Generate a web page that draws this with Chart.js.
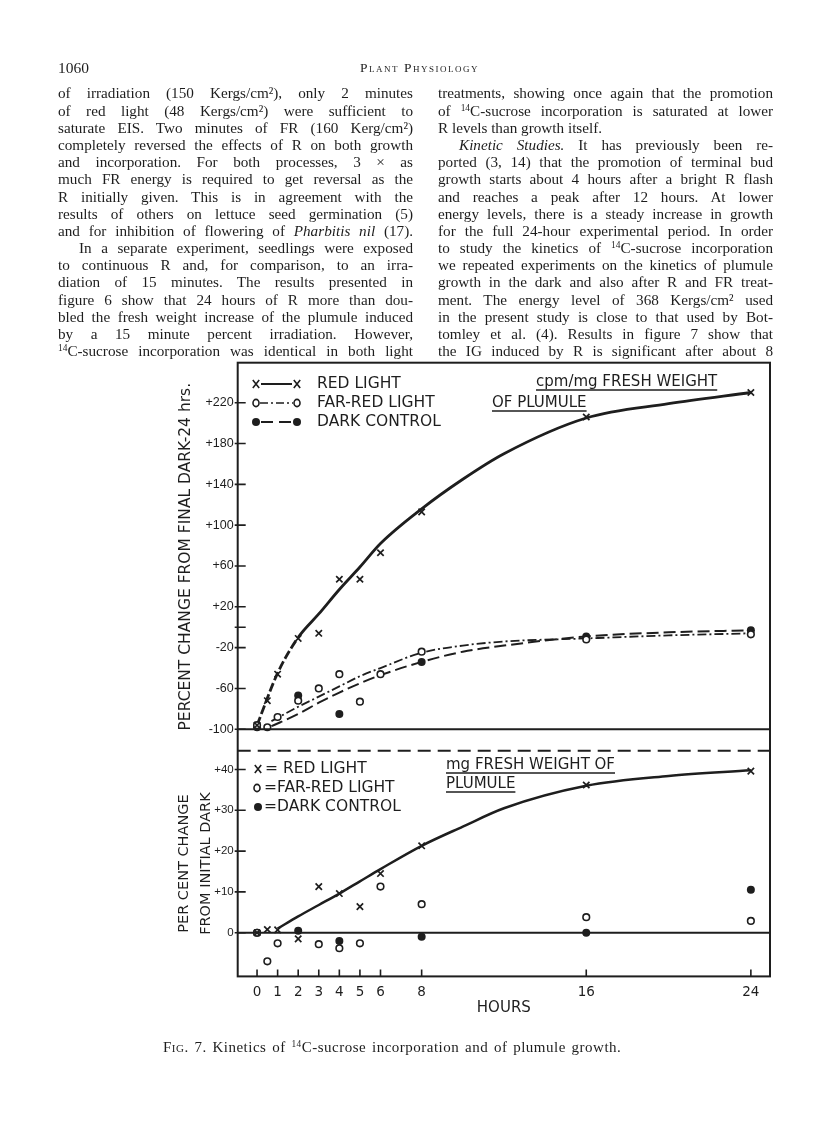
<!DOCTYPE html>
<html>
<head>
<meta charset="utf-8">
<title>Fig. 7 - Kinetics of 14C-sucrose incorporation and of plumule growth</title>
<script src="https://cdn.jsdelivr.net/npm/chart.js@4.4.1/dist/chart.umd.min.js"></script>
<style>
  html, body { margin: 0; padding: 0; background: #fff; }
  #page { position: relative; width: 816px; height: 1127px; overflow: hidden; color: #1d1d1d; }
  #fig { position: absolute; left: 0; top: 0; }
  .serif { font-family: 'Liberation Serif', 'Times New Roman', serif; }
  #folio { position: absolute; left: 58px; top: 60px; font-size: 15.5px; line-height: 16px; }
  #journal { position: absolute; left: 360px; top: 61px; font-size: 13.5px; line-height: 14px; font-variant: small-caps; letter-spacing: 1.5px; }
  .col { position: absolute; top: 84.4px; font-size: 15.2px; line-height: 17.2px; }
  .col div { text-align: justify; text-align-last: justify; height: 17.2px; white-space: nowrap; }
  .col div.end { text-align-last: left; }
  .col div.ind { text-indent: 21px; }
  sup { font-size: 0.62em; line-height: 0; vertical-align: 0.5em; }
  #caption { position: absolute; left: 163px; top: 1039px; font-size: 15px; line-height: 16px; letter-spacing: 0.5px; word-spacing: 1.5px; white-space: nowrap; }
</style>
</head>
<body>
<div id="page">
  <canvas id="fig" width="816" height="1127"></canvas>

  <div id="folio" class="serif">1060</div>
  <div id="journal" class="serif">Plant Physiology</div>

  <div class="col serif" style="left:58px; width:355px">
    <div>of irradiation (150 Kergs/cm²), only 2 minutes</div>
    <div>of red light (48 Kergs/cm²) were sufficient to</div>
    <div>saturate EIS. Two minutes of FR (160 Kerg/cm²)</div>
    <div>completely reversed the effects of R on both growth</div>
    <div>and incorporation. For both processes, 3 × as</div>
    <div>much FR energy is required to get reversal as the</div>
    <div>R initially given. This is in agreement with the</div>
    <div>results of others on lettuce seed germination (5)</div>
    <div>and for inhibition of flowering of <i>Pharbitis nil</i> (17).</div>
    <div class="ind">In a separate experiment, seedlings were exposed</div>
    <div>to continuous R and, for comparison, to an irra-</div>
    <div>diation of 15 minutes. The results presented in</div>
    <div>figure 6 show that 24 hours of R more than dou-</div>
    <div>bled the fresh weight increase of the plumule induced</div>
    <div>by a 15 minute percent irradiation. However,</div>
    <div><sup>14</sup>C-sucrose incorporation was identical in both light</div>
  </div>

  <div class="col serif" style="left:438px; width:335px">
    <div>treatments, showing once again that the promotion</div>
    <div>of <sup>14</sup>C-sucrose incorporation is saturated at lower</div>
    <div class="end">R levels than growth itself.</div>
    <div class="ind"><i>Kinetic Studies.</i> It has previously been re-</div>
    <div>ported (3, 14) that the promotion of terminal bud</div>
    <div>growth starts about 4 hours after a bright R flash</div>
    <div>and reaches a peak after 12 hours. At lower</div>
    <div>energy levels, there is a steady increase in growth</div>
    <div>for the full 24-hour experimental period. In order</div>
    <div>to study the kinetics of <sup>14</sup>C-sucrose incorporation</div>
    <div>we repeated experiments on the kinetics of plumule</div>
    <div>growth in the dark and also after R and FR treat-</div>
    <div>ment. The energy level of 368 Kergs/cm² used</div>
    <div>in the present study is close to that used by Bot-</div>
    <div>tomley et al. (4). Results in figure 7 show that</div>
    <div>the IG induced by R is significant after about 8</div>
  </div>

  <div id="caption" class="serif"><span style="font-variant:small-caps">Fig. 7.</span> Kinetics of <sup>14</sup>C-sucrose incorporation and of plumule growth.</div>
</div>

<script>
// ---- data (hours after treatment) ----

// upper panel: cpm/mg fresh weight of plumule, percent change from final dark (24 hrs)
const topRedHours  = [0, 0.5, 1, 2, 3, 4, 5, 6, 8, 16, 24];
const topRedPts    = [-96, -72, -46, -11, -6, 47, 47, 73, 113, 206, 230];
const topFarHours  = [0, 0.5, 1, 2, 3, 4, 5, 6, 8, 16, 24];
const topFarPts    = [-96, -98, -88, -72, -60, -46, -73, -46, -24, -12, -7];
const topDarkHours = [0, 2, 4, 8, 16, 24];
const topDarkPts   = [-98, -67, -85, -34, -9, -3];

// drawn curves of the upper panel
const topRedCurveHours = [0, 1, 2, 3, 4, 5, 6, 8, 10, 12, 16, 20, 24];
const topRedCurve      = [-96, -45, -10, 13, 37, 59, 82, 116, 145, 170, 205, 219, 230];
const topFarCurveHours = [0.7, 2, 3, 4, 5, 6, 8, 10, 12, 16, 20, 24];
const topFarCurve      = [-92, -78, -68, -58, -48, -40, -25, -18, -14, -11, -8, -6];
const topDarkCurveHours = [0.7, 2, 3, 4, 5, 6, 8, 10, 12, 16, 20, 24];
const topDarkCurve      = [-97, -85, -74, -64, -55, -47, -34, -24, -18, -9, -5, -3];

// lower panel: mg fresh weight of plumule, per cent change from initial dark
const botRedHours  = [0, 0.5, 1, 2, 3, 4, 5, 6, 8, 16, 24];
const botRedPts    = [0, 0.8, 0.7, -1.5, 11.3, 9.6, 6.4, 14.5, 21.3, 36.2, 39.6];
const botFarHours  = [0, 0.5, 1, 3, 4, 5, 6, 8, 16, 24];
const botFarPts    = [0, -7, -2.6, -2.8, -3.8, -2.6, 11.3, 7, 3.8, 2.9];
const botDarkHours = [0, 2, 4, 8, 16, 24];
const botDarkPts   = [0, 0.5, -2, -1, 0, 10.5];

const botRedCurveHours = [1, 2, 3, 4, 5, 6, 8, 10, 12, 16, 20, 24];
const botRedCurve      = [1, 4, 6.8, 9.6, 12.6, 15.6, 21.3, 26, 30.5, 36, 38.4, 39.8];

// axes
const hourTicks = [0, 1, 2, 3, 4, 5, 6, 8, 16, 24];
const topTicks  = [-100, -60, -20, 0, 20, 60, 100, 140, 180, 220];
const botTicks  = [0, 10, 20, 30, 40];

const INK = '#1e1e1e';
const SANS = "'DejaVu Sans', sans-serif";
const NARROW = "'Liberation Sans', Arial, sans-serif";

const toXY = (xs, ys) => xs.map((h, i) => ({ x: h, y: ys[i] }));
const signed = v => (v > 0 ? '+' + v : String(v));

function drawX(ctx, x, y) {
    ctx.beginPath();
    ctx.moveTo(x - 3.2, y - 4); ctx.lineTo(x + 3.2, y + 4);
    ctx.moveTo(x + 3.2, y - 4); ctx.lineTo(x - 3.2, y + 4);
    ctx.stroke();
}
function drawO(ctx, x, y) {
    ctx.beginPath();
    ctx.ellipse(x, y, 3, 3.6, 0, 0, Math.PI * 2);
    ctx.fillStyle = '#fff';
    ctx.fill();
    ctx.stroke();
}
function drawDot(ctx, x, y) {
    ctx.beginPath();
    ctx.arc(x, y, 4, 0, Math.PI * 2);
    ctx.fillStyle = INK;
    ctx.fill();
}
function underlined(ctx, text, x, y, lineY) {
    ctx.fillText(text, x, y);
    const w = ctx.measureText(text).width;
    ctx.beginPath();
    ctx.moveTo(x, lineY); ctx.lineTo(x + w, lineY);
    ctx.stroke();
}

// frame, reference lines, inward ticks and the hand-lettered keys
const decor = {
    id: 'decor',
    afterDraw(chart) {
        const { ctx, chartArea: a, scales } = chart;
        const yT = scales.yTop, yB = scales.yBot, xs = scales.x;
        ctx.save();
        ctx.strokeStyle = INK;
        ctx.fillStyle = INK;

        const hline = (py, w) => {
            ctx.lineWidth = w;
            ctx.beginPath();
            ctx.moveTo(a.left, py); ctx.lineTo(a.right, py);
            ctx.stroke();
        };
        hline(yT.getPixelForValue(-100), 1.8);
        hline(yB.getPixelForValue(0), 1.8);
        ctx.setLineDash([13, 7]);
        hline(yT.bottom, 2);
        ctx.setLineDash([]);

        ctx.lineWidth = 2;
        ctx.strokeRect(a.left, a.top, a.right - a.left, a.bottom - a.top);

        // tick marks pointing into the plot
        ctx.lineWidth = 1.6;
        ctx.beginPath();
        [yT, yB].forEach(s => s.ticks.forEach(t => {
            const py = s.getPixelForValue(t.value);
            ctx.moveTo(a.left - 3, py); ctx.lineTo(a.left + 8, py);
        }));
        xs.ticks.forEach(t => {
            const px = xs.getPixelForValue(t.value);
            ctx.moveTo(px, a.bottom); ctx.lineTo(px, a.bottom - 7);
        });
        ctx.stroke();

        // key of the upper panel
        ctx.font = '15.5px ' + SANS;
        ctx.textBaseline = 'middle';
        ctx.lineWidth = 1.6;
        drawX(ctx, 256, 384); drawX(ctx, 297, 384);
        ctx.lineWidth = 2;
        ctx.beginPath(); ctx.moveTo(261, 384); ctx.lineTo(292, 384); ctx.stroke();
        ctx.lineWidth = 1.6;
        ctx.setLineDash([8, 3, 2, 3]);
        ctx.beginPath(); ctx.moveTo(260, 403); ctx.lineTo(293, 403); ctx.stroke();
        ctx.setLineDash([]);
        drawO(ctx, 256, 403); drawO(ctx, 297, 403);
        ctx.lineWidth = 2;
        ctx.setLineDash([12, 6]);
        ctx.beginPath(); ctx.moveTo(261, 422); ctx.lineTo(293, 422); ctx.stroke();
        ctx.setLineDash([]);
        drawDot(ctx, 256, 422); drawDot(ctx, 297, 422);
        ctx.fillStyle = INK;
        ctx.fillText('RED LIGHT', 317, 384);
        ctx.fillText('FAR-RED LIGHT', 317, 403);
        ctx.fillText('DARK CONTROL', 317, 422);

        ctx.font = '15px ' + SANS;
        ctx.lineWidth = 1.3;
        underlined(ctx, 'cpm/mg FRESH WEIGHT', 536, 382, 390);
        underlined(ctx, 'OF PLUMULE', 492, 403, 411);

        // key of the lower panel
        ctx.font = '15.5px ' + SANS;
        ctx.lineWidth = 1.6;
        drawX(ctx, 258, 769);
        drawO(ctx, 257, 788);
        drawDot(ctx, 258, 807);
        ctx.fillStyle = INK;
        ctx.fillText('= RED LIGHT', 265, 769);
        ctx.fillText('=FAR-RED LIGHT', 264, 788);
        ctx.fillText('=DARK CONTROL', 264, 807);

        ctx.font = '15px ' + SANS;
        ctx.lineWidth = 1.3;
        underlined(ctx, 'mg FRESH WEIGHT OF', 446, 765, 773);
        underlined(ctx, 'PLUMULE', 446, 784, 792);

        ctx.restore();
    }
};

const curve = (label, xs, ys, axis, width, dash) => ({
    label, data: toXY(xs, ys), yAxisID: axis,
    showLine: true, pointRadius: 0, borderColor: INK, borderWidth: width,
    borderDash: dash, cubicInterpolationMode: 'monotone', order: 2
});
const marks = (label, xs, ys, axis, style) => Object.assign({
    label, data: toXY(xs, ys), yAxisID: axis, showLine: false, order: 1,
    borderColor: INK, pointBorderColor: INK
}, style);
const xStyle = { pointStyle: 'crossRot', pointRadius: 4.5, pointBorderWidth: 1.7 };
const oStyle = { pointStyle: 'circle', pointRadius: 3.3, pointBorderWidth: 1.6, pointBackgroundColor: '#fff' };
const dotStyle = { pointStyle: 'circle', pointRadius: 4, pointBorderWidth: 0, pointBackgroundColor: INK };

// the red curve is drawn broken over its first two hours
const topRedLine = curve('Red light curve', topRedCurveHours, topRedCurve, 'yTop', 2.8, []);
topRedLine.segment = { borderDash: c => (c.p1.parsed.x <= 2 ? [9, 3] : undefined) };

new Chart(document.getElementById('fig'), {
    type: 'scatter',
    data: {
        datasets: [
            topRedLine,
            curve('Far-red light curve', topFarCurveHours, topFarCurve, 'yTop', 1.8, [9, 3, 2, 3]),
            curve('Dark control curve', topDarkCurveHours, topDarkCurve, 'yTop', 2, [12, 5]),
            curve('Red light fresh weight curve', botRedCurveHours, botRedCurve, 'yBot', 2.5, []),
            marks('Red light', topRedHours, topRedPts, 'yTop', xStyle),
            marks('Far-red light', topFarHours, topFarPts, 'yTop', oStyle),
            marks('Dark control', topDarkHours, topDarkPts, 'yTop', dotStyle),
            marks('Red light (fresh weight)', botRedHours, botRedPts, 'yBot', xStyle),
            marks('Far-red light (fresh weight)', botFarHours, botFarPts, 'yBot', oStyle),
            marks('Dark control (fresh weight)', botDarkHours, botDarkPts, 'yBot', dotStyle)
        ]
    },
    options: {
        responsive: false,
        animation: false,
        devicePixelRatio: 1,
        layout: { padding: { left: 173.6, top: 362.7, right: 46, bottom: 110 } },
        plugins: { legend: { display: false }, tooltip: { enabled: false } },
        scales: {
            x: {
                type: 'linear',
                min: -0.94, max: 24.93,
                afterBuildTicks: s => { s.ticks = hourTicks.map(v => ({ value: v })); },
                afterFit: s => { s.height = 40.6; },
                grid: { display: false, drawTicks: false },
                border: { display: false },
                ticks: { color: INK, padding: 8, maxRotation: 0, autoSkip: false,
                         font: { family: SANS, size: 13.5 }, callback: v => String(v) },
                title: { display: true, text: 'HOURS', color: INK, padding: 0,
                         font: { family: SANS, size: 15 } }
            },
            yTop: {
                type: 'linear',
                position: 'left', stack: 'panels', stackWeight: 388, weight: 2,
                min: -121, max: 259.2,
                afterBuildTicks: s => { s.ticks = topTicks.map(v => ({ value: v })); },
                afterFit: s => { s.width = 64.1; },
                grid: { display: false, drawTicks: false },
                border: { display: false },
                ticks: { color: INK, padding: 4, autoSkip: false,
                         font: { family: NARROW, size: 12.5 },
                         callback: v => (v === 0 ? '' : signed(v)) },
                title: { display: true, text: 'PERCENT CHANGE FROM FINAL DARK-24 hrs.', color: INK,
                         padding: { top: 3, bottom: 0 }, font: { family: SANS, size: 15.5 } }
            },
            yBot: {
                type: 'linear',
                position: 'left', stack: 'panels', stackWeight: 225.7, weight: 1,
                min: -10.7, max: 44.6,
                afterBuildTicks: s => { s.ticks = botTicks.map(v => ({ value: v })); },
                afterFit: s => { s.width = 64.1; },
                grid: { display: false, drawTicks: false },
                border: { display: false },
                ticks: { color: INK, padding: 4, autoSkip: false,
                         font: { family: NARROW, size: 11.5 }, callback: v => signed(v) },
                title: { display: true, text: ['PER CENT CHANGE', 'FROM INITIAL DARK'], color: INK,
                         padding: 0, font: { family: SANS, size: 14.5, lineHeight: 1.48 } }
            }
        }
    },
    plugins: [decor]
});
</script>
</body>
</html>
